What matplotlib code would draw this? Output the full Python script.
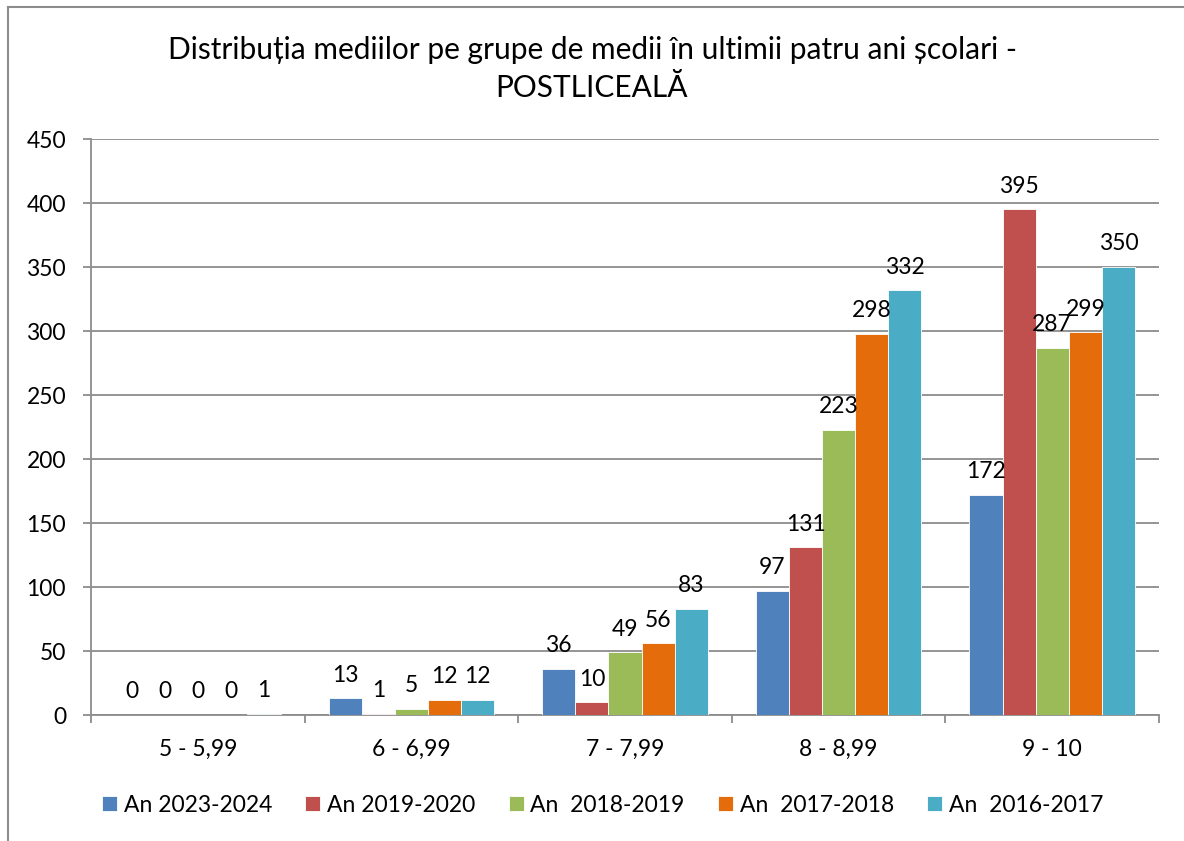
import numpy as np
import matplotlib.pyplot as plt
from matplotlib.lines import Line2D

# data
groups = ['5 - 5,99', '6 - 6,99', '7 - 7,99', '8 - 8,99', '9 - 10']
series = ['An 2023-2024', 'An 2019-2020', 'An  2018-2019', 'An  2017-2018', 'An  2016-2017']
an_2023_2024 = [0, 13, 36, 97, 172]
an_2019_2020 = [0, 1, 10, 131, 395]
an_2018_2019 = [0, 5, 49, 223, 287]
an_2017_2018 = [0, 12, 56, 298, 299]
an_2016_2017 = [1, 12, 83, 332, 350]
values = [an_2023_2024, an_2019_2020, an_2018_2019, an_2017_2018, an_2016_2017]
colors = ['#4F81BD', '#C0504D', '#9BBB59', '#E46C0A', '#4BACC6']

plt.rcParams['font.family'] = ['Lato', 'DejaVu Sans']
fs = 16.5

fig = plt.figure(figsize=(11.84, 8.41), dpi=100)
ax = fig.add_axes([91/1184, 1-715/841, (1159-91)/1184, (715-139)/841])

x = np.arange(len(groups))
w = 0.155
for i, (vals, col, name) in enumerate(zip(values, colors, series)):
    pos = x + (i - 2) * w
    ax.bar(pos, vals, w, color=col, edgecolor='white', linewidth=0.6, label=name, zorder=3)
    for px, v in zip(pos, vals):
        ax.annotate(str(v), (px, v), xytext=(0, 9), textcoords='offset points',
                    ha='center', va='bottom', fontsize=fs, zorder=4)

ax.set_xlim(-0.5, 4.5)
ax.set_ylim(0, 450)
ax.set_yticks(range(0, 451, 50))
ax.yaxis.grid(True, color='#8c8c8c', lw=1.3, zorder=0)
ax.tick_params(axis='y', length=6, width=1.3, color='#8c8c8c', pad=12, labelsize=fs)

# tick marks between categories, labels in the middle
ax.set_xticks(np.arange(-0.5, 5, 1))
ax.set_xticklabels([])
ax.set_xticks(x, minor=True)
ax.set_xticklabels(groups, minor=True)
ax.tick_params(axis='x', which='major', length=6, width=1.3, color='#8c8c8c')
ax.tick_params(axis='x', which='minor', length=0, pad=17, labelsize=fs)

for s in ['top', 'right']:
    ax.spines[s].set_visible(False)
for s in ['left', 'bottom']:
    ax.spines[s].set_color('#8c8c8c')
    ax.spines[s].set_linewidth(1.3)

fig.text(0.5, 1-50/841, 'Distribuția mediilor pe grupe de medii în ultimii patru ani școlari -',
         ha='center', va='center', fontsize=21.5)
fig.text(0.5, 1-88/841, 'POSTLICEALĂ', ha='center', va='center', fontsize=21.5)

fig.legend(loc='center', bbox_to_anchor=(0.509, 1-805/841), ncol=5, frameon=False,
           fontsize=fs, handlelength=0.65, handleheight=0.65, handletextpad=0.3,
           columnspacing=1.45)

# outer chart border (left and top visible)
fig.add_artist(Line2D([8/1184, 8/1184], [0, 1-7/841], color='#8c8c8c', lw=1.5))
fig.add_artist(Line2D([8/1184, 1], [1-7/841, 1-7/841], color='#8c8c8c', lw=1.5))

fig.savefig('out.png', dpi=100)
